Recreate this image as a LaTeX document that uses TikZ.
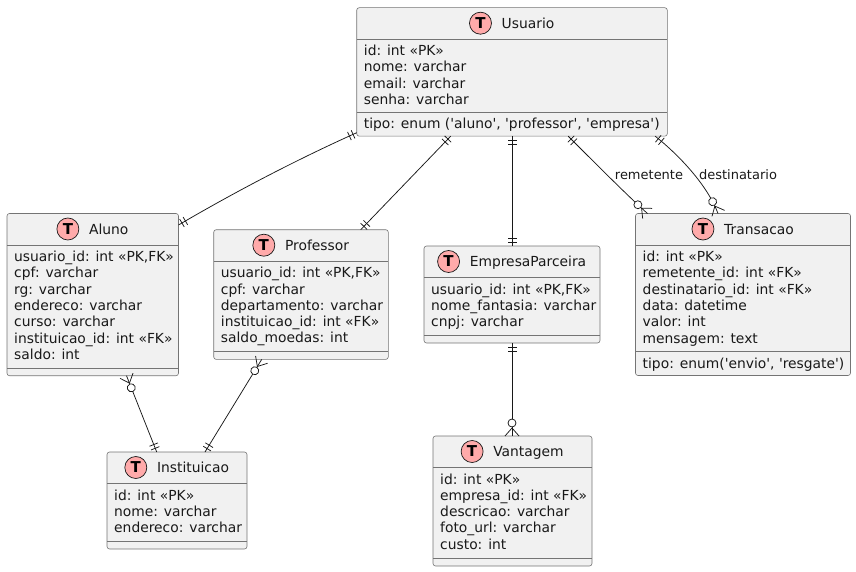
\documentclass[tikz,border=0pt]{standalone}
\usepackage{fontspec}
\usetikzlibrary{calc,decorations.markings}
\newfontfamily\erfont{DejaVu Sans}
\definecolor{boxfill}{HTML}{F1F1F1}
\definecolor{boxline}{HTML}{181818}
\definecolor{badge}{HTML}{FFAAAA}
\tikzset{
  x=1pt,y=-1pt,
  erbox/.style={draw=boxline!60,line width=.6pt,fill=boxfill,rounded corners=2.5pt,inner sep=0,outer sep=0,anchor=north west},
  rowtext/.style={font=\erfont\fontsize{13.85}{16.3}\selectfont,text=black!90,inner sep=0,anchor=base west},
  titletext/.style={font=\erfont\fontsize{13.85}{16.3}\selectfont,text=black!90,inner sep=0,anchor=base},
  badgenode/.style={circle,draw=boxline,line width=.7pt,fill=badge,minimum size=22pt,inner sep=0,font=\erfont\bfseries\fontsize{15}{16}\selectfont},
  rule/.style={draw=boxline!60,line width=.6pt},
  linklabel/.style={font=\erfont\fontsize{13}{15}\selectfont,text=black!90,inner sep=0},
  conn/.style={draw=boxline,line width=.75pt},
  oneone/.style={conn,postaction={decorate,decoration={markings,
    mark=at position 4pt with {\draw[conn] (0,-4.5)--(0,4.5);},
    mark=at position 8pt with {\draw[conn] (0,-4.5)--(0,4.5);},
    mark=at position -8pt with {\draw[conn] (0,-4.5)--(0,4.5);},
    mark=at position -4pt with {\draw[conn] (0,-4.5)--(0,4.5);}}}},
  onemany/.style={conn,postaction={decorate,decoration={markings,
    mark=at position 4pt with {\draw[conn] (0,-4.5)--(0,4.5);},
    mark=at position 8pt with {\draw[conn] (0,-4.5)--(0,4.5);},
    mark=at position -13pt with {\draw[conn,fill=white] (0,0) circle[radius=4pt];},
    mark=at position -8pt with {\draw[conn] (0,0)--(8,7) (0,0)--(8,-7);}}}},
}
% name x1 y1 x2 y2 sep title fields methods
\newcommand{\erentity}[9]{%
  \pgfmathsetmacro{\ew}{#4-#2}\pgfmathsetmacro{\eh}{#5-#3}%
  \node[erbox,minimum width=\ew pt,minimum height=\eh pt] (#1) at (#2,#3) {};
  \draw[rule] (#2,#3+31.5) -- (#4,#3+31.5);
  \draw[rule] (#2,#6) -- (#4,#6);
  \node[titletext] (#1-title) at ({(#2+#4)/2+16},#3+20.5) {#7};
  \node[badgenode] (#1-badge) at ([xshift=-21pt,yshift=5pt]#1-title.base west) {T};
  \foreach \t [count=\i from 0] in {#8}{
    \node[rowtext] (#1-f\i) at (#2+7,#3+48+16.3*\i) {\t};
  }
  \foreach \t [count=\i from 0] in {#9}{
    \node[rowtext] (#1-m\i) at (#2+7,#6+17+16.3*\i) {\t};
  }
}
\begin{document}
\begin{tikzpicture}
\useasboundingbox (0,0) rectangle (856,572);
\erentity{usu}{356.7}{7.7}{667.3}{136.2}{112}{Usuario}{id: int «PK»,nome: varchar,email: varchar,senha: varchar}{{tipo: enum ('aluno', 'professor', 'empresa')}}
\erentity{alu}{7}{213.5}{178.5}{375.7}{368}{Aluno}{{usuario\_id: int «PK,FK»},cpf: varchar,rg: varchar,endereco: varchar,curso: varchar,instituicao\_id: int «FK»,saldo: int}{}
\erentity{pro}{213.7}{229.7}{388.3}{359.4}{351.7}{Professor}{{usuario\_id: int «PK,FK»},cpf: varchar,departamento: varchar,instituicao\_id: int «FK»,saldo\_moedas: int}{}
\erentity{emp}{424}{246}{600}{343}{335}{EmpresaParceira}{{usuario\_id: int «PK,FK»},nome\_fantasia: varchar,cnpj: varchar}{}
\erentity{tra}{635.5}{213.5}{850.5}{375.5}{351}{Transacao}{id: int «PK»,remetente\_id: int «FK»,destinatario\_id: int «FK»,data: datetime,valor: int,mensagem: text}{{tipo: enum('envio', 'resgate')}}
\erentity{ins}{107}{452}{247}{549}{541}{Instituicao}{id: int «PK»,nome: varchar,endereco: varchar}{}
\erentity{van}{433}{436}{592}{566}{558}{Vantagem}{id: int «PK»,empresa\_id: int «FK»,descricao: varchar,foto\_url: varchar,custo: int}{}

\draw[oneone] ([yshift=3.5pt]usu.south west) .. controls +(-60,27) and +(59,-34.5) .. ([yshift=-11.5pt]alu.north east);
\draw[oneone] ([xshift=94pt]usu.south west) -- ([xshift=147pt]pro.north west);
\draw[oneone] (usu.south -| emp.north) -- (emp.north);
\draw[onemany] ([xshift=211.5pt]usu.south west) .. controls +(31.5,31.5) and +(-17,-15) .. ([xshift=12pt]tra.north west);
\draw[onemany] ([xshift=298.5pt]usu.south west) .. controls +(24.5,19.5) and +(-10.5,-28) .. ([xshift=82.5pt]tra.north west);
\draw[onemany] (emp.south) -- (emp.south |- van.north);
\draw[onemany] ([xshift=49.7pt]ins.north west) -- ([xshift=119.5pt]alu.south west);
\draw[onemany] ([xshift=98pt]ins.north west) -- ([xshift=48pt]pro.south west);
\node[linklabel] (lblrem) at (649,175) {remetente};
\node[linklabel] (lbldes) at (738,175) {destinatario};
\end{tikzpicture}
\end{document}
